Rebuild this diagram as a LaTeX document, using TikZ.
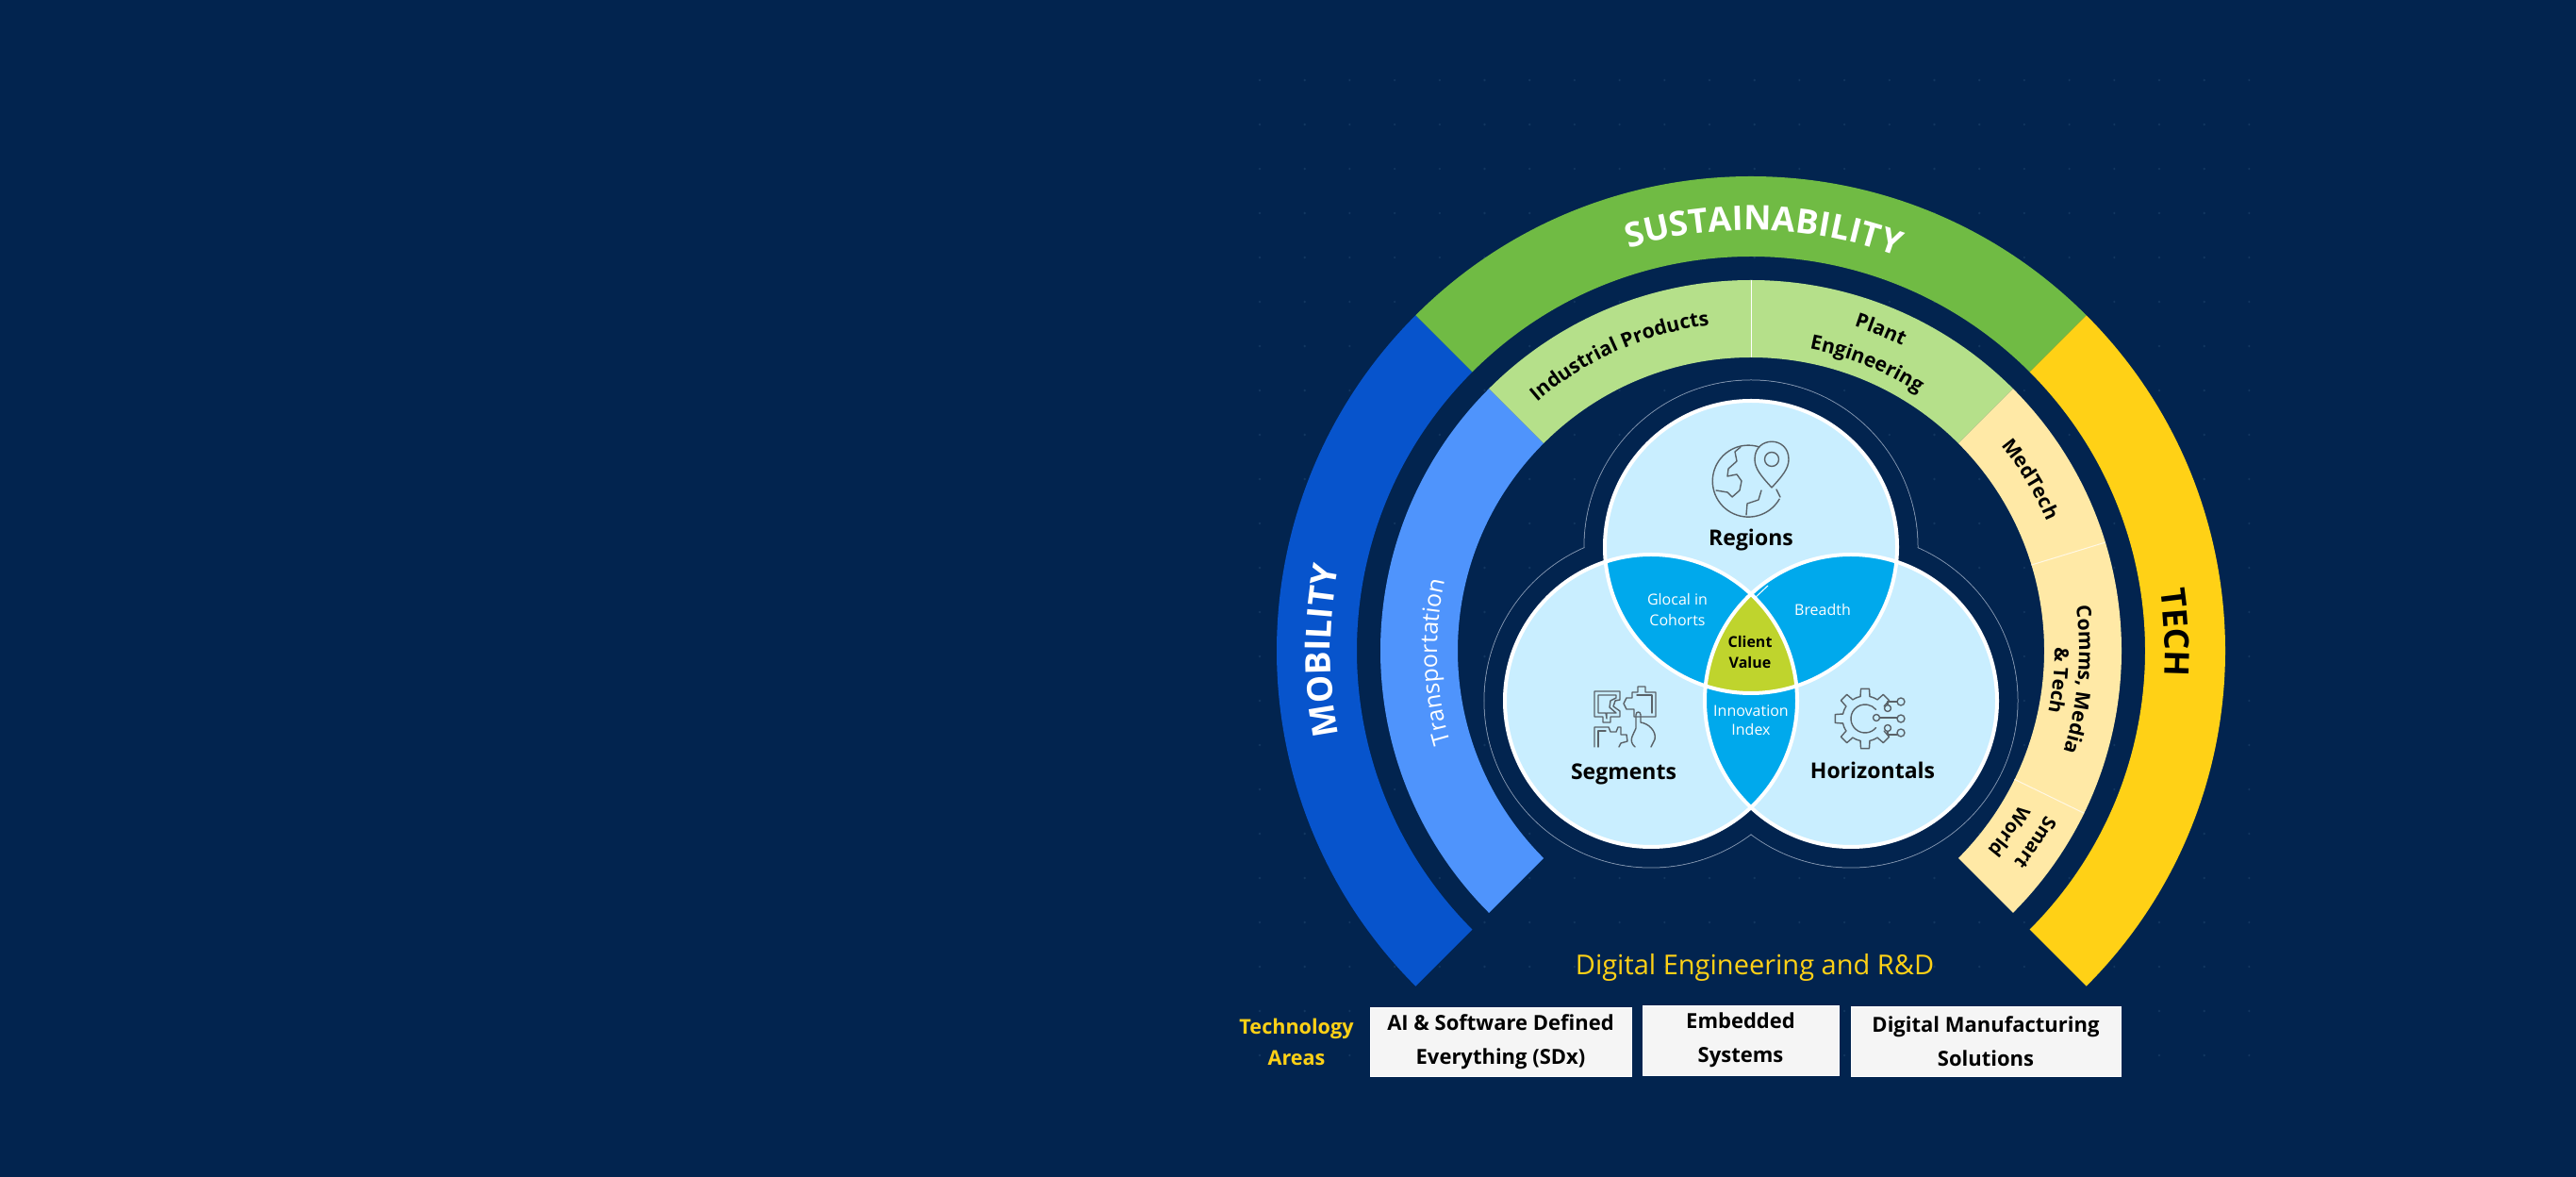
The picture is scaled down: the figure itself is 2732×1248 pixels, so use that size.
\documentclass[tikz,border=0pt]{standalone}
\usepackage{fontspec}
\setmainfont{Open Sans}
\usetikzlibrary{decorations.text}
\definecolor{bgc}{HTML}{02244F}
\definecolor{dotc}{HTML}{123660}
\definecolor{grn}{HTML}{70BB44}
\definecolor{lgrn}{HTML}{B5E08A}
\definecolor{yel}{HTML}{FFD116}
\definecolor{lyel}{HTML}{FFE9A6}
\definecolor{blu}{HTML}{0754CC}
\definecolor{lblu}{HTML}{4F94FC}
\definecolor{vlight}{HTML}{C9EEFF}
\definecolor{vblue}{HTML}{00A9EC}
\definecolor{volive}{HTML}{BFD42D}
\definecolor{contour}{HTML}{7F93AE}
\definecolor{iconc}{HTML}{5A6268}
\definecolor{boxc}{HTML}{F5F5F5}
\newcommand{\fs}[1]{\fontsize{#1}{#1}\selectfont}
\newcommand{\bandseg}[5]{\fill[#1,shift={(1857,558)}] (#2:#5) arc[start angle=#2,end angle=#3,radius=#5] -- (#3:#4) arc[start angle=#3,end angle=#2,radius=#4] -- cycle;}
\newcommand{\arclabel}[4]{\path[shift={(1857,558)},decorate,decoration={text along path,text align=center,text={|#3|#4}}] ({#2+40}:#1) arc[start angle={#2+40},end angle={#2-40},radius=#1];}
\tikzset{
  iconline/.style={draw=iconc,line width=0.7pt,line join=round,line cap=round},
  px/.style={shift={(0,1248)},yscale=-1},
  vlabel/.style={inner sep=0pt,align=center},
  head/.style={vlabel,font=\bfseries\fs{11.5},text=black},
  inw/.style={vlabel,font=\fs{8},text=white},
  boxn/.style={draw=white,fill=boxc,line width=0.3pt,inner sep=0pt,align=center,font=\bfseries\fs{11},text=black},
  yellab/.style={inner sep=0pt,align=center,text=yel}
}
\begin{document}
\begin{tikzpicture}[x=0.5pt,y=0.5pt]
\useasboundingbox (0,0) rectangle (2732,1248);
\fill[bgc] (0,0) rectangle (2732,1248);
\foreach \i in {0,...,22}{\foreach \j in {0,...,22}{
  \fill[dotc] ({1336+47.7*\i},{1163-47*\j}) circle[radius=1.3];}}
% bands
\bandseg{blu}{135}{225}{418}{503}
\bandseg{grn}{45}{135}{418}{503}
\bandseg{yel}{-45}{45}{418}{503}
\bandseg{lblu}{135}{225}{311}{393}
\bandseg{lgrn}{45}{135}{311}{393}
\bandseg{lyel}{-45}{45}{311}{393}
\draw[white,line width=0.5pt,shift={(1857,558)}] (90:311) -- (90:393);
\draw[white!70!lyel,line width=0.5pt,shift={(1857,558)}] (17:311) -- (17:393);
\draw[white!70!lyel,line width=0.5pt,shift={(1857,558)}] (-26:311) -- (-26:393);
% band labels
\arclabel{446}{88.3}{\bfseries\fs{18}\color{white}}{SUSTAINABILITY}
\arclabel{446}{180}{\bfseries\fs{18.5}\color{white}}{MOBILITY}
\arclabel{439}{2.5}{\bfseries\fs{18}\color{black}}{TECH}
\arclabel{333}{182}{\fs{12.5}\color{white}}{Transportation}
\arclabel{348}{114}{\bfseries\fs{10.6}\color{black}}{Industrial Products}
\arclabel{361}{68}{\bfseries\fs{10.5}\color{black}}{Plant}
\arclabel{326}{68}{\bfseries\fs{10.6}\color{black}}{Engineering}
\arclabel{343}{31.5}{\bfseries\fs{10.5}\color{black}}{MedTech}
\arclabel{348}{-5}{\bfseries\fs{10.6}\color{black}}{Comms, Media}
\arclabel{322}{-5.5}{\bfseries\fs{10.4}\color{black}}{{\&} Tech}
\arclabel{358}{-34}{\bfseries\fs{10}\color{black}}{Smart}
\arclabel{328}{-35}{\bfseries\fs{10}\color{black}}{World}
% venn
\coordinate (cT) at (1857,668);
\coordinate (cL) at (1751,505);
\coordinate (cR) at (1963,505);
\foreach \c in {cT,cL,cR}{\draw[contour,line width=0.5pt] (\c) circle[radius=177];}
\foreach \c in {cT,cL,cR}{\fill[bgc] (\c) circle[radius=176.5];}
\foreach \c in {cT,cL,cR}{\fill[vlight] (\c) circle[radius=155];}
\begin{scope}\clip (cT) circle[radius=155];\fill[vblue] (cL) circle[radius=155];\end{scope}
\begin{scope}\clip (cT) circle[radius=155];\fill[vblue] (cR) circle[radius=155];\end{scope}
\begin{scope}\clip (cL) circle[radius=155];\fill[vblue] (cR) circle[radius=155];\end{scope}
\begin{scope}\clip (cT) circle[radius=155];\clip (cL) circle[radius=155];\fill[volive] (cR) circle[radius=155];\end{scope}
\foreach \c in {cT,cL,cR}{\draw[white,line width=2pt] (\c) circle[radius=155];}
\begin{scope}[px]
\draw[white,line width=0.5pt] (1860,635) -- (1875,621);
\node[head] (regions) at (1857,573) {Regions};
\node[head] (segments) at (1722,821) {Segments};
\node[head] (horizontals) at (1986,817) {Horizontals};
\node[inw] (glocal) at (1779,647) {Glocal in\\[3pt]Cohorts};
\node[inw] (breadth) at (1933,647) {Breadth};
\node[vlabel,font=\bfseries\fs{8},text=black] (client) at (1856,692) {Client\\[3pt]Value};
\node[inw] (innov) at (1857,764) {Innovation\\[2pt]Index};
% globe icon
\draw[iconline] (1866,474) arc[start angle=-72,end angle=-330,radius=38];
\draw[iconline] (1879,517) .. controls (1868,505) and (1861,497) .. (1861,487) .. controls (1861,462) and (1897,462) .. (1897,487) .. controls (1897,497) and (1890,505) .. (1879,517) -- cycle;
\draw[iconline] (1879,487) circle[radius=7.5];
\draw[iconline] (1846,474) -- (1840,479) -- (1842,489) -- (1833,497) -- (1832,505) -- (1842,503) -- (1847,510) -- (1845,520) -- (1837,527) -- (1832,522) -- (1820,520);
\draw[iconline] (1868,520) -- (1865,530) -- (1853,534) -- (1852,546);
\draw[iconline] (1884,519) -- (1888,527);
% puzzle icon
\draw[iconline] (1691,733) -- (1718,733) -- (1718,742) -- (1713,743) -- (1711,749) -- (1718,754) -- (1718,760) -- (1708,760) -- (1708,766) -- (1700,766) -- (1700,760) -- (1691,760) -- cycle;
\draw[iconline] (1695,737) -- (1714,737) -- (1714,740) -- (1708,743) -- (1707,750) -- (1714,756) -- (1704,756) -- (1704,762) -- (1703,756) -- (1695,756) -- cycle;
\draw[iconline] (1731,734) -- (1737,734) -- (1737,728) -- (1745,728) -- (1745,734) -- (1756,734) -- (1756,760) -- (1733,760) -- (1733,752) -- (1725,752) -- (1722,746) -- (1725,740) -- (1731,740) -- cycle;
\draw[iconline] (1736,737) -- (1752,737) -- (1752,756);
\draw[iconline] (1691,792) -- (1691,771) -- (1706,771) -- (1708,776) -- (1714,776) -- (1716,771) -- (1719,771) -- (1719,779) -- (1725,779) -- (1726,786) -- (1719,788) -- (1717,792);
\draw[iconline] (1695,792) -- (1695,775) -- (1703,775);
\draw[iconline] (1734,792) .. controls (1726,785) and (1733,778) .. (1735,772) -- (1735,758) .. controls (1735,754) and (1740,754) .. (1740,758) -- (1740,766) .. controls (1748,767) and (1757,775) .. (1755,784) -- (1751,792);
% gear icon
\begin{scope}[shift={(1978,762)}]
\foreach \a in {45,90,135,180,225,270,315}{
  \draw[iconline] ({\a-12}:24) -- ({\a-8}:32) -- ({\a+8}:32) -- ({\a+12}:24);}
\foreach \a in {57,102,147,192,237,282}{
  \draw[iconline] (\a:24) arc[start angle=\a,end angle={\a+21},radius=24];}
\draw[iconline] (40:15) arc[start angle=40,end angle=320,radius=15];
\end{scope}
\draw[iconline] (2016,744) circle[radius=4];
\draw[iconline] (2016,762) circle[radius=4];
\draw[iconline] (2016,777) circle[radius=4];
\draw[iconline] (1990,761) circle[radius=3.5];
\draw[iconline] (2002,751) circle[radius=3.5];
\draw[iconline] (2002,772) circle[radius=3.5];
\draw[iconline] (1994,761) -- (2012,761);
\draw[iconline] (2002,747) -- (2002,744) -- (2012,744);
\draw[iconline] (2002,776) -- (2002,779) -- (2012,779);
% bottom
\node[yellab,font=\fs{14.5}] (de) at (1861,1026) {Digital Engineering and R\&D};
\node[yellab,font=\bfseries\fs{10.8}] (ta) at (1375,1105) {Technology\\[6pt]Areas};
\node[boxn,minimum width=138.5pt,minimum height=36.5pt] (b1) at (1591.5,1104.5) {AI \& Software Defined\\[7pt]Everything (SDx)};
\node[boxn,minimum width=104pt,minimum height=37pt] (b2) at (1846,1103) {Embedded\\[7pt]Systems};
\node[boxn,minimum width=143pt,minimum height=37pt] (b3) at (2106,1104) {Digital Manufacturing\\[7pt]Solutions};
\end{scope}
\end{tikzpicture}
\end{document}
